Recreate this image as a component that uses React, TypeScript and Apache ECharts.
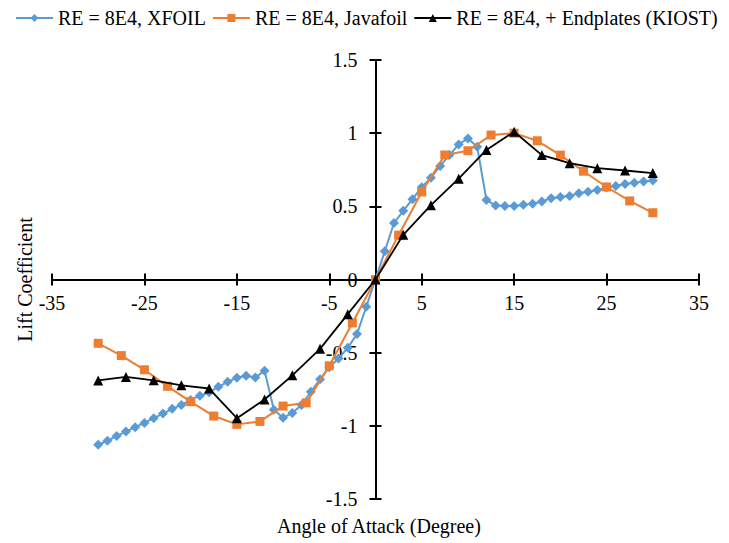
import React, { useEffect, useRef } from "react";
import * as echarts from "echarts";

const xfoilAlpha = [
  -30, -29, -28, -27, -26, -25, -24, -23, -22, -21, -20, -19, -18, -17, -16, -15, -14, -13, -12, -11,
  -10, -9, -8, -7, -6, -5, -4, -3, -2, -1, 0, 1, 2, 3, 4, 5, 6, 7, 8, 9, 10, 11, 12, 13, 14, 15, 16,
  17, 18, 19, 20, 21, 22, 23, 24, 25, 26, 27, 28, 29, 30,
];
const xfoilCl = [
  -1.129, -1.102, -1.07, -1.039, -1.009, -0.98, -0.948, -0.916, -0.884, -0.857, -0.823, -0.794, -0.771,
  -0.733, -0.699, -0.672, -0.658, -0.669, -0.624, -0.89, -0.945, -0.912, -0.858, -0.767, -0.682, -0.6,
  -0.54, -0.467, -0.372, -0.186, 0, 0.193, 0.386, 0.469, 0.549, 0.631, 0.696, 0.776, 0.85, 0.923, 0.964,
  0.907, 0.544, 0.505, 0.503, 0.503, 0.51, 0.517, 0.533, 0.556, 0.563, 0.571, 0.59, 0.599, 0.612, 0.628,
  0.639, 0.653, 0.662, 0.669, 0.676,
];

const javaAlpha = [
  -30, -27.5, -25, -22.5, -20, -17.5, -15, -12.5, -10, -7.5, -5, -2.5, 0, 2.5, 5, 7.5, 10, 12.5, 15,
  17.5, 20, 22.5, 25, 27.5, 30,
];
const javaCl = [
  -0.436, -0.52, -0.617, -0.73, -0.835, -0.933, -0.99, -0.97, -0.865, -0.843, -0.59, -0.297, 0, 0.303,
  0.598, 0.851, 0.88, 0.987, 1.0, 0.948, 0.85, 0.74, 0.632, 0.537, 0.456,
];

const kiostAlpha = [-30, -27, -24, -21, -18, -15, -12, -9, -6, -3, 0, 3, 6, 9, 12, 15, 18, 21, 24, 27, 30];
const kiostCl = [
  -0.69, -0.666, -0.689, -0.723, -0.745, -0.948, -0.82, -0.655, -0.474, -0.237, 0, 0.305, 0.508, 0.689,
  0.885, 1.01, 0.85, 0.795, 0.761, 0.745, 0.727,
];

const xTickValues = [-35, -25, -15, -5, 5, 15, 25, 35];
const seriesNames = ["RE = 8E4, XFOIL", "RE = 8E4, Javafoil", "RE = 8E4, + Endplates (KIOST)"];

const X_MIN = -35;
const X_MAX = 35;
const Y_MIN = -1.5;
const Y_MAX = 1.5;

const FONT = "Liberation Serif";

const zip = (a: number[], b: number[]) => a.map((v, i) => [v, b[i]]);

export default function App() {
  const ref = useRef<HTMLDivElement>(null);
  useEffect(() => {
    if (!ref.current) return;
    const W = 729;
    const H = 543;
    const grid = { left: 52, right: 30, top: 60, bottom: 44 };
    const gw = W - grid.left - grid.right;
    const gh = H - grid.top - grid.bottom;
    // offsets that bring the axes to the origin (crossing at 0,0)
    const xOff = -(gh * (0 - Y_MIN)) / (Y_MAX - Y_MIN);
    const yOff = -(gw * (0 - X_MIN)) / (X_MAX - X_MIN);
    const xOffTop = -(gh - -xOff);
    const yOffRight = -(gw - -yOff);

    const chart = echarts.init(ref.current, undefined, { renderer: "svg" });
    const axisLine = { show: true, onZero: false, lineStyle: { color: "#000", width: 2 } };
    const tick = { show: true, length: 6, lineStyle: { color: "#000", width: 2 } };
    chart.setOption({
      animation: false,
      backgroundColor: "#fff",
      textStyle: { fontFamily: FONT },
      legend: {
        left: 10,
        top: 3,
        width: 760,
        itemWidth: 37,
        itemHeight: 10,
        itemGap: 6,
        textStyle: { fontFamily: FONT, fontSize: 20, color: "#000" },
        data: seriesNames,
      },
      grid: { ...grid, containLabel: false },
      xAxis: [
        {
          type: "value",
          position: "bottom",
          offset: xOff,
          min: X_MIN,
          max: X_MAX,
          axisLine,
          splitLine: { show: false },
          axisTick: { ...tick, customValues: xTickValues },
          axisLabel: {
            customValues: xTickValues,
            margin: 13,
            fontFamily: FONT,
            fontSize: 20,
            color: "#000",
          },
        },
        {
          type: "value",
          position: "top",
          offset: xOffTop,
          min: X_MIN,
          max: X_MAX,
          axisLine,
          splitLine: { show: false },
          axisTick: { ...tick, customValues: xTickValues },
          axisLabel: { show: false },
        },
      ],
      yAxis: [
        {
          type: "value",
          position: "left",
          offset: yOff,
          min: Y_MIN,
          max: Y_MAX,
          interval: 0.5,
          axisLine,
          splitLine: { show: false },
          axisTick: tick,
          axisLabel: { margin: 18, fontFamily: FONT, fontSize: 20, color: "#000" },
        },
        {
          type: "value",
          position: "right",
          offset: yOffRight,
          min: Y_MIN,
          max: Y_MAX,
          interval: 0.5,
          axisLine,
          splitLine: { show: false },
          axisTick: tick,
          axisLabel: { show: false },
        },
      ],
      graphic: [
        {
          type: "text",
          x: 25,
          y: 279.5,
          rotation: Math.PI / 2,
          style: {
            text: "Lift Coefficient",
            fontFamily: FONT,
            fontSize: 20,
            fill: "#000",
            align: "center",
            verticalAlign: "middle",
          },
        },
        {
          type: "text",
          x: 379,
          y: 526,
          style: {
            text: "Angle of Attack (Degree)",
            fontFamily: FONT,
            fontSize: 20,
            fill: "#000",
            align: "center",
            verticalAlign: "middle",
          },
        },
      ],
      series: [
        {
          name: seriesNames[0],
          type: "line",
          xAxisIndex: 0,
          yAxisIndex: 0,
          data: zip(xfoilAlpha, xfoilCl),
          symbol: "diamond",
          symbolSize: 10,
          color: "#5B9BD5",
          lineStyle: { width: 2, color: "#5B9BD5" },
          itemStyle: { color: "#5B9BD5" },
          z: 2,
        },
        {
          name: seriesNames[1],
          type: "line",
          xAxisIndex: 0,
          yAxisIndex: 0,
          data: zip(javaAlpha, javaCl),
          symbol: "rect",
          symbolSize: 9,
          color: "#ED7D31",
          lineStyle: { width: 2, color: "#ED7D31" },
          itemStyle: { color: "#ED7D31" },
          z: 3,
        },
        {
          name: seriesNames[2],
          type: "line",
          xAxisIndex: 0,
          yAxisIndex: 0,
          data: zip(kiostAlpha, kiostCl),
          symbol: "triangle",
          symbolSize: 10,
          color: "#000",
          lineStyle: { width: 1.8, color: "#000" },
          itemStyle: { color: "#000" },
          z: 4,
        },
      ],
    });
    return () => chart.dispose();
  }, []);
  return (
    <div
      ref={ref}
      style={{ position: "fixed", left: 0, top: 0, width: 729, height: 543, background: "#fff" }}
    />
  );
}
